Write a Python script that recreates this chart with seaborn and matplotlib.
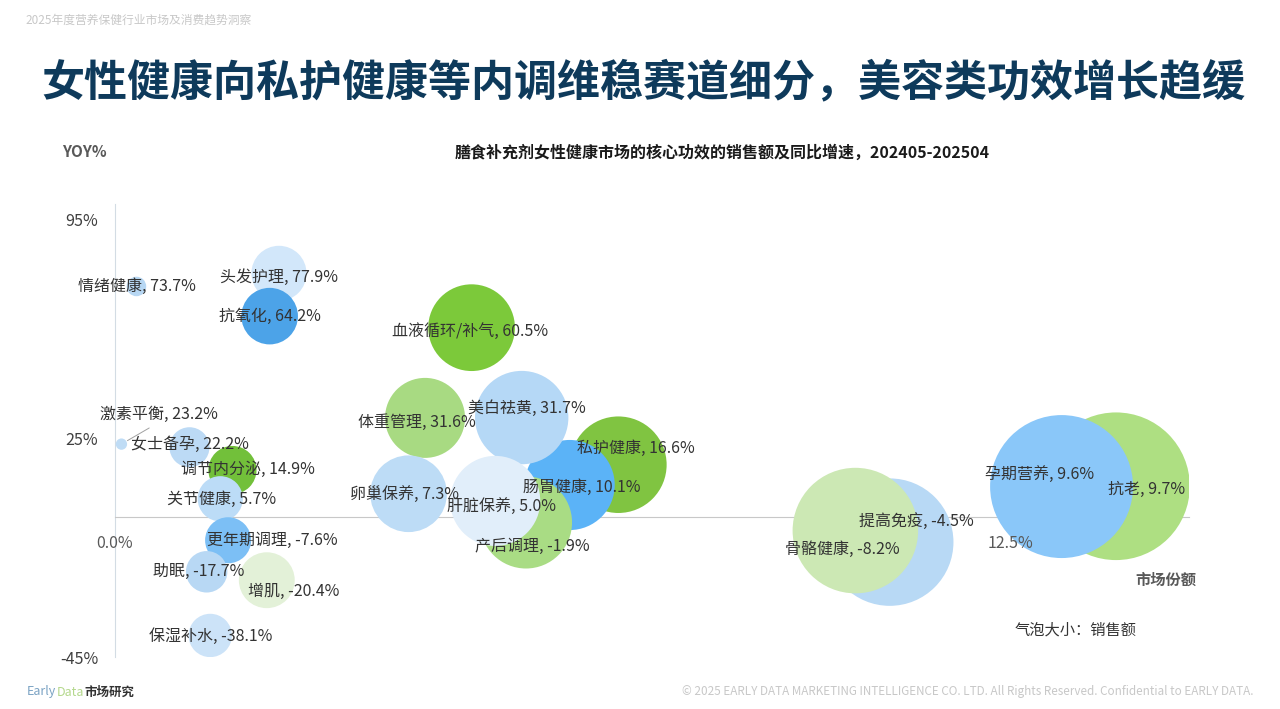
import matplotlib
matplotlib.use('Agg')
import matplotlib.pyplot as plt
import seaborn as sns
import pandas as pd

# ---------------- data ----------------
names = ['情绪健康', '头发护理', '抗氧化', '激素平衡', '女士备孕', '调节内分泌', '关节健康',
         '更年期调理', '助眠', '增肌', '保湿补水', '血液循环/补气', '体重管理', '私护健康',
         '肠胃健康', '美白祛黄', '卵巢保养', '产后调理', '肝脏保养', '骨骼健康', '提高免疫',
         '抗老', '孕期营养']
share = [0.30, 2.29, 2.16, 0.09, 1.04, 1.64, 1.47,
         1.58, 1.28, 2.12, 1.33, 4.98, 4.33, 7.03,
         6.35, 5.68, 4.10, 5.74, 5.31, 10.82, 10.34,
         13.98, 13.22]
yoy = [73.7, 77.9, 64.2, 23.2, 22.2, 14.9, 5.7,
       -7.6, -17.7, -20.4, -38.1, 60.5, 31.6, 16.6,
       10.1, 31.7, 7.3, -1.9, 5.0, -8.2, -4.5,
       9.7, 9.6]
sales = [0.95, 7.6, 8.0, 0.32, 4.0, 5.8, 5.1,
         5.3, 4.3, 7.8, 4.7, 18.8, 16.0, 23.3,
         20.3, 21.8, 14.7, 21.2, 20.3, 40.6, 39.4,
         54.5, 51.1]
colors = ['#B7D7F3', '#D2E7FA', '#4CA3E8', '#BFDCF5', '#BCDAF5', '#72C03A', '#BCDCF7',
          '#7CBFF5', '#B8D8F4', '#E3F1D8', '#CCE3F8', '#7CC93A', '#A8DA82', '#80C441',
          '#5BB3F7', '#B5D8F6', '#BDDCF6', '#A9DC84', '#E1EEFA', '#B8D9F5', '#CCE8B4',
          '#AEDF82', '#8AC7F9']
# label offsets in pixels (right, down) from bubble centre
label_dx = [0, 0, 0, 37, 0, 16, 1,
            44, -8, 27, 0, -2, -8, 18,
            12, 5, -4, 6, 6, -47, 61,
            31, -22]
label_dy = [0, 4, 0, -30, -3, -1, 1,
            0, 0, 11, 1, 4, 5, -16,
            2, -9, 1, 24, 6, 7, -9,
            3, -12]

x_ticks = [0, 12.5]
x_tick_labels = ['0.0%', '12.5%']
y_ticks = [-45, 25, 95]
y_tick_labels = ['-45%', '25%', '95%']

title = '女性健康向私护健康等内调维稳赛道细分，美容类功效增长趋缓'
subtitle = '膳食补充剂女性健康市场的核心功效的销售额及同比增速，202405-202504'
header = '2025年度营养保健行业市场及消费趋势洞察'
footer_right = '© 2025 EARLY DATA MARKETING INTELLIGENCE CO. LTD. All Rights Reserved. Confidential to EARLY DATA.'

# ---------------- style ----------------
sns.set_theme(style='white')
plt.rcParams['font.family'] = ['Noto Sans CJK SC', 'DejaVu Sans']

fig = plt.figure(figsize=(12.8, 7.09), dpi=100)
fig.patch.set_facecolor('white')
ax = fig.add_axes([0.08984, 0.07334, 0.8391, 0.6384])

df = pd.DataFrame({'name': names, 'share': share, 'yoy': yoy, 'sales': sales})
k = 207.36  # pt^2 per sales unit
sns.scatterplot(data=df, x='share', y='yoy', hue='name',
                palette=dict(zip(names, colors)),
                size='sales', sizes=(k * min(sales), k * max(sales)),
                size_norm=(min(sales), max(sales)),
                linewidth=0, alpha=1, legend=False, ax=ax, zorder=1)

ax.set_xlim(0, 15)
ax.set_ylim(-45, 100)
ax.set_xlabel('')
ax.set_ylabel('')
for s in ['top', 'right']:
    ax.spines[s].set_visible(False)
ax.spines['bottom'].set_position(('data', 0))
ax.spines['bottom'].set_color('#C8C8C8')
ax.spines['bottom'].set_linewidth(0.8)
ax.spines['left'].set_color('#D3DCE4')
ax.spines['left'].set_linewidth(0.8)
for s in ['bottom', 'left']:
    ax.spines[s].set_zorder(0.5)
ax.set_axisbelow(False)

ax.set_xticks(x_ticks, labels=x_tick_labels)
ax.set_yticks(y_ticks, labels=y_tick_labels)
ax.tick_params(axis='x', length=0, pad=13, labelsize=11.5, labelcolor='#595959')
ax.tick_params(axis='y', length=0, pad=12, labelsize=11.5, labelcolor='#404040')
ax.grid(False)

for i, n in enumerate(names):
    txt = f'{n}, {yoy[i]:.1f}%'
    kw = {}
    if n == '激素平衡':
        kw['arrowprops'] = dict(arrowstyle='-', color='#A0A0A0', lw=0.7,
                                shrinkA=3, shrinkB=5, relpos=(0.5, 0.0))
    ax.annotate(txt, xy=(share[i], yoy[i]), xytext=(label_dx[i], -label_dy[i]),
                textcoords='offset pixels', ha='center', va='center',
                fontsize=11.5, color='#333333', zorder=5, **kw)

# ---------------- page texts ----------------
W, H = 1280, 709
def fx(px):
    return px / W
def fy(py):
    return 1 - py / H

fig.text(fx(25), fy(20), header, fontsize=8.5, color='#C8C8C8', va='center', ha='left')
fig.text(fx(643), fy(82), title, fontsize=31, fontweight='bold', color='#0E3A5B',
         ha='center', va='center')
fig.text(fx(62), fy(152), 'YOY%', fontsize=11, fontweight='bold', color='#595959',
         ha='left', va='center')
fig.text(fx(722), fy(153), subtitle, fontsize=11.5, fontweight='bold', color='#1A1A1A',
         ha='center', va='center')
fig.text(fx(1166), fy(580), '市场份额', fontsize=11, fontweight='bold', color='#595959',
         ha='center', va='center')
fig.text(fx(1076), fy(630), '气泡大小：销售额', fontsize=11, color='#333333',
         ha='center', va='center')
fig.text(fx(27), fy(692), 'Early', fontsize=9, color='#7BA3C4', ha='left', va='center')
fig.text(fx(57), fy(692), 'Data', fontsize=9, color='#B4D88C', ha='left', va='center')
fig.text(fx(84), fy(692), '市场研究', fontsize=9, fontweight='bold', color='#333333',
         ha='left', va='center')
fig.text(fx(1253), fy(692), footer_right, fontsize=8.45, color='#C8C8C8', ha='right', va='center')

fig.savefig('out.png', dpi=100, facecolor='white')
